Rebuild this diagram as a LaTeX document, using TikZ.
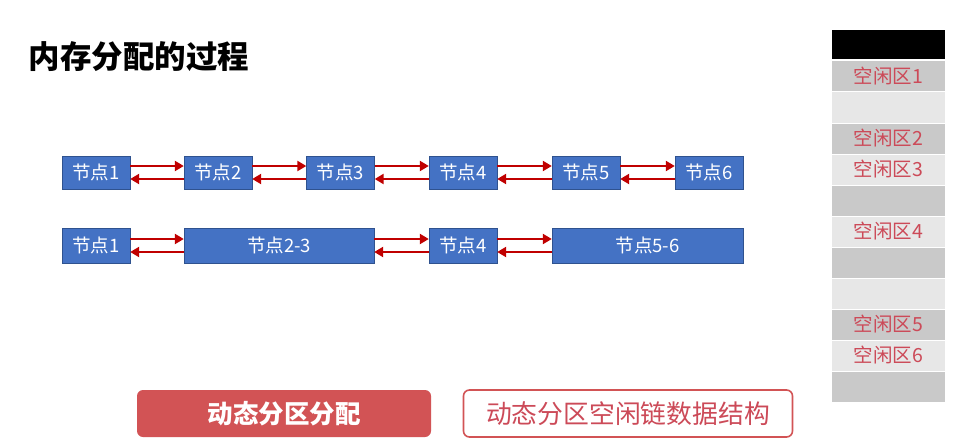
\documentclass[tikz,border=0pt]{standalone}
\usepackage{fontspec}
\setmainfont{Noto Sans CJK SC}
\usepackage{xcolor}
\usetikzlibrary{arrows.meta,positioning}
\definecolor{azul}{HTML}{4472C4}
\definecolor{azulborde}{HTML}{2F528F}
\definecolor{rojo}{HTML}{C00000}
\definecolor{rojoboton}{HTML}{D25355}
\definecolor{rojotexto}{HTML}{CC4A58}
\definecolor{grisA}{HTML}{C9C9C9}
\definecolor{grisB}{HTML}{E7E7E7}
\tikzset{
  nodo/.style={rectangle,fill=azul,draw=azulborde,thin,text=white,font=\fontsize{18.5}{18.5}\selectfont,minimum height=33pt,inner sep=0pt},
  enlace/.style={draw=rojo,line width=2.5pt,-{Triangle[length=9pt,width=10pt]}},
  zona/.style={text=rojotexto,font=\fontsize{19.5}{19.5}\selectfont},
  boton/.style={rounded corners=6pt,minimum height=47pt,inner sep=0pt}
}
\begin{document}
\begin{tikzpicture}[x=1pt,y=-1pt]
\useasboundingbox[fill=white] (0,0) rectangle (959,444);
% titulo
\node[anchor=west,font=\fontsize{31.5}{31.5}\selectfont\bfseries] (titulo) at (25,57) {内存分配的过程};
% fila de arriba
\foreach \i/\x in {1/96,2/218,3/340.5,4/463,5/586,6/709}{
  \node[nodo,minimum width=68pt] (n\i) at (\x,172.5) {节点\i};}
\foreach \a/\b in {n1/n2,n2/n3,n3/n4,n4/n5,n5/n6}{
  \draw[enlace] ([yshift=6.5pt]\a.east) -- ([yshift=6.5pt]\b.west);
  \draw[enlace] ([yshift=-6.5pt]\b.west) -- ([yshift=-6.5pt]\a.east);}
% fila de abajo
\node[nodo,minimum width=68pt,minimum height=35pt] (m1) at (96,245.5) {节点1};
\node[nodo,minimum width=190pt,minimum height=35pt] (m23) at (279,245.5) {节点2-3};
\node[nodo,minimum width=68pt,minimum height=35pt] (m4) at (463,245.5) {节点4};
\node[nodo,minimum width=191pt,minimum height=35pt] (m56) at (647.5,245.5) {节点5-6};
\foreach \a/\b in {m1/m23,m23/m4,m4/m56}{
  \draw[enlace] ([yshift=6.5pt]\a.east) -- ([yshift=6.5pt]\b.west);
  \draw[enlace] ([yshift=-6.5pt]\b.west) -- ([yshift=-6.5pt]\a.east);}
% columna de memoria
\fill[black] (832,30) rectangle (945,59.5);
\foreach \k in {0,...,10}{
  \pgfmathsetmacro{\sup}{61.5+31*\k}
  \ifodd\k \def\tono{grisB}\else\def\tono{grisA}\fi
  \fill[\tono] (832,\sup) rectangle (945,\sup+30);}
\foreach \k/\t in {0/1,2/2,3/3,5/4,8/5,9/6}{
  \node[zona] (z\t) at (888.5,61.5+31*\k+15) {空闲区\t};}
% botones
\node[boton,fill=rojoboton,minimum width=294pt,text=white,font=\fontsize{25.5}{25.5}\selectfont\bfseries] (b1) at (284,413.5) {动态分区分配};
\node[boton,draw=rojoboton,line width=1.6pt,fill=white,minimum width=329pt,text=rojotexto,font=\fontsize{25.8}{25.8}\selectfont] (b2) at (628,413.5) {动态分区空闲链数据结构};
\end{tikzpicture}
\end{document}
